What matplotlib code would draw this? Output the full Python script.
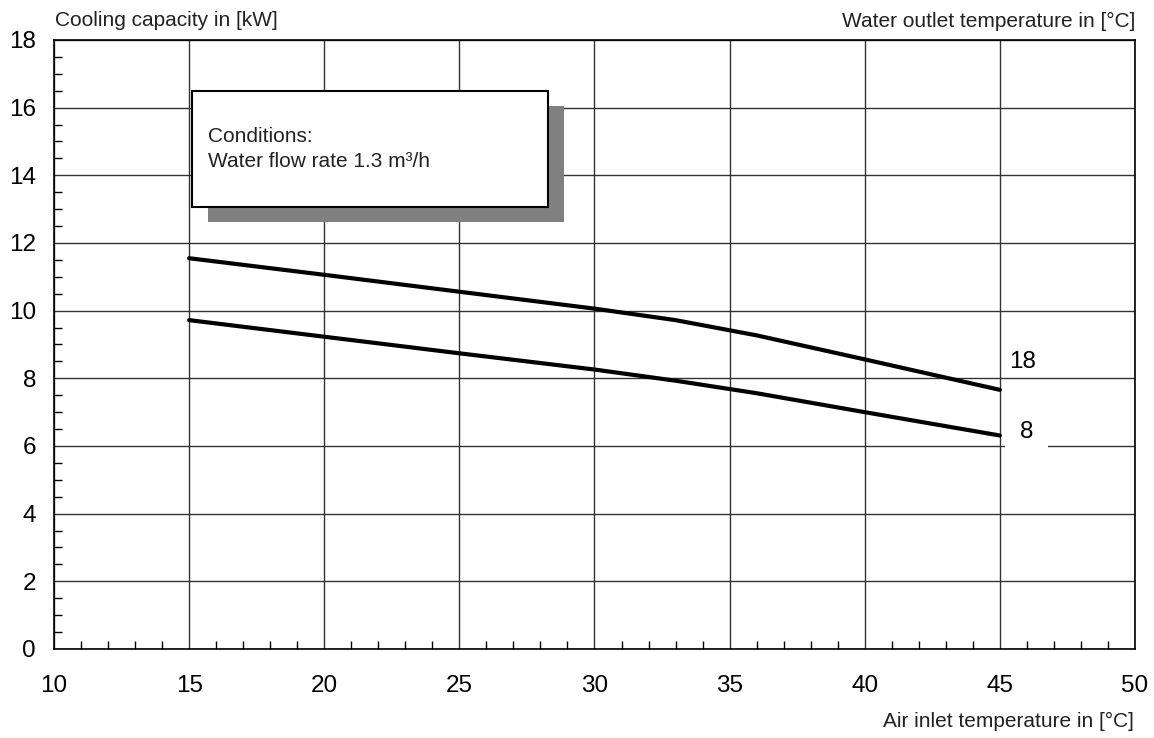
import matplotlib.pyplot as plt
from matplotlib.patches import Rectangle
from matplotlib.ticker import MultipleLocator

plt.rcParams['font.family'] = ['Liberation Sans', 'DejaVu Sans']

# data
air_temp = [15, 20, 25, 30, 33, 36, 40, 45]
cap_18 = [11.55, 11.06, 10.56, 10.06, 9.72, 9.27, 8.56, 7.66]
cap_8 = [9.72, 9.23, 8.74, 8.26, 7.93, 7.56, 7.00, 6.31]
curve_labels = ["18", "8"]

fig = plt.figure(figsize=(11.54, 7.38), dpi=100)
ax = fig.add_axes([0.0468, 0.1206, 0.9367, 0.8252])

ax.set_xlim(10, 50)
ax.set_ylim(0, 18)
ax.xaxis.set_major_locator(MultipleLocator(5))
ax.xaxis.set_minor_locator(MultipleLocator(1))
ax.yaxis.set_major_locator(MultipleLocator(2))
ax.yaxis.set_minor_locator(MultipleLocator(0.5))
ax.tick_params(which='both', direction='in', labelsize=17.5)
ax.tick_params(which='major', length=0)
ax.tick_params(axis='x', which='major', pad=19)
ax.tick_params(axis='y', which='major', pad=13)
ax.tick_params(which='minor', length=6, width=1, color='black')
ax.grid(True, which='major', color='#333333', linewidth=1.0)
ax.set_axisbelow(True)
for s in ax.spines.values():
    s.set_linewidth(1.2)

# conditions box with shadow
ax.add_patch(Rectangle((15.7, 12.62), 13.17, 3.44, facecolor='#808080',
                       edgecolor='none', zorder=2))
ax.add_patch(Rectangle((15.11, 13.06), 13.18, 3.44, facecolor='white',
                       edgecolor='black', linewidth=1.5, zorder=2.1))
ax.text(15.7, 15.14, "Conditions:", fontsize=15, va='center', color='#222222', zorder=2.2)
ax.text(15.7, 14.40, "Water flow rate 1.3 m³/h", fontsize=15, va='center', color='#222222', zorder=2.2)

ax.plot(air_temp, cap_18, color='black', linewidth=3, solid_capstyle='round', zorder=3)
ax.plot(air_temp, cap_8, color='black', linewidth=3, solid_capstyle='round', zorder=3)

ax.text(45.85, 8.48, curve_labels[0], fontsize=17.5, ha='center', va='center', zorder=2.5)
ax.text(45.98, 6.41, curve_labels[1], fontsize=17.5, ha='center', va='center', zorder=2.5,
        bbox=dict(boxstyle='square,pad=0.62', facecolor='white', edgecolor='none'))

fig.text(55 / 1154, 1 - 21 / 738, "Cooling capacity in [kW]", fontsize=15,
         ha='left', va='center', color='#222222')
fig.text(1135 / 1154, 1 - 21 / 738, "Water outlet temperature in [°C]", fontsize=15,
         ha='right', va='center', color='#222222')
fig.text(1134 / 1154, 1 - 721 / 738, "Air inlet temperature in [°C]", fontsize=15,
         ha='right', va='center', color='#222222')

fig.savefig("out.png", dpi=100)
